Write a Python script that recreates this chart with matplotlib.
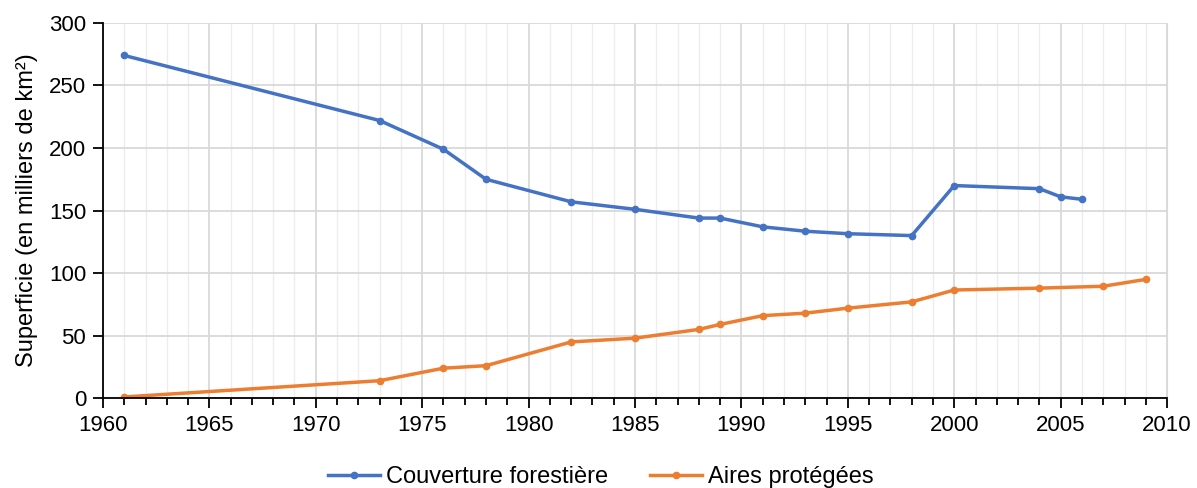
import numpy as np
import matplotlib.pyplot as plt
from matplotlib.ticker import MultipleLocator

plt.rcParams['font.family'] = ['Liberation Sans', 'DejaVu Sans']

# couverture forestiere
annees_f = [1961, 1973, 1976, 1978, 1982, 1985, 1988, 1989, 1991, 1993, 1995, 1998, 2000, 2004, 2005, 2006]
foret = [274, 222, 199, 175, 157, 151, 144, 144, 137, 133.5, 131.5, 130, 170, 167.5, 161, 159]

# aires protegees
annees_a = [1961, 1973, 1976, 1978, 1982, 1985, 1988, 1989, 1991, 1993, 1995, 1998, 2000, 2004, 2007, 2009]
aires = [1, 14, 24, 26, 45, 48, 55, 59, 66, 68, 72, 77, 86.5, 88, 89.5, 95]

fig = plt.figure(figsize=(11.97, 4.88), dpi=100)
ax = fig.add_axes([0.086, 0.184, 0.889, 0.769])

ax.plot(annees_f, foret, "-o", color="#4472C4", lw=2.5, ms=4.5, label="Couverture forestière")
ax.plot(annees_a, aires, "-o", color="#ED7D31", lw=2.5, ms=4.5, label="Aires protégées")

ax.set_xlim(1960, 2010)
ax.set_ylim(0, 300)
ax.xaxis.set_major_locator(MultipleLocator(5))
ax.xaxis.set_minor_locator(MultipleLocator(1))
ax.yaxis.set_major_locator(MultipleLocator(50))

ax.grid(which="major", color="#D9D9D9", lw=1.3)
ax.grid(which="minor", axis="x", color="#EDEDED", lw=1.0)
ax.set_axisbelow(True)

ax.spines["top"].set_visible(False)
ax.spines["right"].set_color("#D9D9D9")
ax.spines["left"].set_color("black")
ax.spines["bottom"].set_color("black")
ax.spines["left"].set_linewidth(1.3)
ax.spines["bottom"].set_linewidth(1.3)

ax.tick_params(which="major", length=7, width=1.3, labelsize=16, direction="out", pad=5)
ax.tick_params(which="minor", length=5, width=1.3, direction="out")

ax.set_ylabel("Superficie (en milliers de km²)", fontsize=17, labelpad=8)

fig.legend(handles=ax.get_lines(), loc="center", bbox_to_anchor=(0.502, 0.022), ncol=2, frameon=False,
           fontsize=17, handlelength=2.2, handletextpad=0.25, columnspacing=1.8)

fig.savefig("out.png", dpi=100)
